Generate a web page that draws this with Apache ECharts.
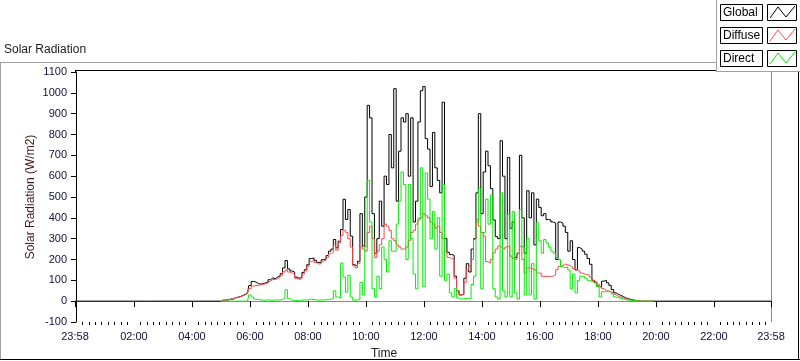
<!DOCTYPE html>
<html>
<head>
<meta charset="utf-8">
<script src="https://cdn.jsdelivr.net/npm/echarts@6/dist/echarts.min.js"></script>
<style>
  html, body { margin: 0; padding: 0; background: #fff; }
  #chart { width: 800px; height: 361px; }
</style>
</head>
<body>
<div id="chart"></div>
<script>
// minutes after midnight; axis runs 23:58 -> 23:58
const axisEnds = [-2, 1438];
const majorTicks = [-2, 120, 240, 360, 480, 600, 720, 840, 960, 1080, 1200, 1320, 1438];
// samples every 5 min from 05:00, one row per hour
const dayStart = 300;
const step = 5;
const nightGlobal = [[-2, 0], [1438, 0]];

const globalRad = [
    0, 5, 5, 6, 10, 10, 16, 19, 22, 27, 32, 40,
    75, 95, 92, 84, 82, 84, 88, 93, 103, 112, 108, 116,
    121, 132, 160, 195, 155, 145, 140, 115, 110, 115, 138, 151,
    175, 205, 207, 196, 186, 186, 199, 202, 219, 240, 250, 296,
    256, 288, 344, 489, 392, 440, 312, 175, 167, 191, 420, 264,
    500, 940, 880, 420, 230, 300, 480, 360, 600, 560, 800, 640,
    1020, 480, 720, 880, 860, 900, 600, 880, 380, 480, 860, 1010,
    1030, 780, 730, 550, 810, 640, 580, 520, 955, 300, 235, 224,
    220, 120, 50, 30, 32, 110, 180, 140, 250, 300, 520, 900,
    420, 620, 720, 650, 540, 390, 310, 300, 770, 600, 300, 690,
    350, 380, 210, 230, 700, 400, 230, 530, 400, 520, 270, 490,
    450, 410, 420, 392, 390, 380, 375, 200, 380, 375, 360, 330,
    240, 290, 200, 150, 257, 250, 240, 225, 205, 177, 100, 90,
    72, 66, 96, 100, 88, 76, 56, 40, 33, 28, 22, 16,
    12, 9, 6, 4, 2, 0, 0, 0, 0, 0, 0, 0
];

const diffuseRad = [
    0, 4, 5, 6, 9, 10, 15, 18, 21, 25, 30, 37,
    60, 72, 75, 76, 78, 80, 84, 88, 96, 104, 104, 108,
    114, 124, 140, 150, 140, 135, 130, 110, 104, 108, 130, 145,
    168, 190, 196, 186, 178, 180, 192, 196, 210, 228, 235, 270,
    245, 280, 315, 340, 330, 300, 260, 170, 160, 180, 260, 250,
    240, 330, 360, 300, 210, 240, 270, 300, 370, 360, 340, 300,
    290, 270, 260, 250, 250, 260, 290, 330, 340, 370, 390, 400,
    420, 410, 400, 380, 370, 350, 360, 330, 300, 240, 210, 205,
    200, 110, 50, 30, 32, 90, 150, 170, 200, 296, 392, 360,
    330, 312, 190, 183, 200, 232, 250, 264, 255, 248, 260, 264,
    216, 205, 200, 230, 264, 200, 135, 159, 160, 151, 150, 135,
    135, 119, 119, 118, 119, 120, 125, 151, 167, 170, 178, 175,
    170, 165, 155, 150, 145, 135, 130, 128, 125, 115, 100, 92,
    82, 70, 60, 52, 48, 45, 38, 30, 24, 20, 16, 12,
    10, 7, 5, 3, 2, 1, 0, 0, 0, 0, 0, 0
];

const directRad = [
    0, 0, 0, 0, 0, 0, 0, 0, 0, 0, 0, 0,
    30, 20, 10, 8, 6, 5, 5, 6, 5, 4, 6, 5,
    6, 8, 15, 55, 12, 5, 4, 3, 5, 4, 6, 5,
    8, 10, 8, 6, 5, 6, 5, 7, 8, 10, 12, 50,
    20, 15, 183, 116, 43, 124, 20, 5, 5, 10, 90, 30,
    260, 580, 380, 60, 20, 120, 60, 260, 200, 140, 290, 240,
    240, 370, 480, 620, 560, 200, 560, 300, 130, 60, 400, 640,
    70, 615, 490, 300, 430, 250, 400, 120, 560, 100, 130, 40,
    20, 60, 15, 10, 12, 12, 15, 12, 80, 120, 380, 540,
    60, 330, 490, 370, 510, 60, 20, 10, 520, 50, 20, 415,
    20, 430, 40, 10, 440, 260, 30, 300, 30, 180, 10, 376,
    290, 230, 296, 280, 260, 240, 230, 210, 200, 165, 160, 165,
    150, 60, 130, 40, 100, 120, 120, 110, 100, 95, 90, 85,
    70, 20, 45, 45, 48, 45, 35, 20, 16, 14, 10, 8,
    5, 4, 3, 2, 1, 0, 0, 0, 0, 0, 0, 0
];

const seriesNames = ['Global', 'Diffuse', 'Direct'];
const seriesColors = ['#000000', '#ff4a4a', '#00f000'];

function toPairs(arr) {
    return arr.map((v, i) => [dayStart + i * step, v]);
}

function fmtTime(v) {
    let m = Math.round(v);
    if (m < 0) m += 1440;
    const h = Math.floor(m / 60), mm = m % 60;
    return String(h).padStart(2, '0') + ':' + String(mm).padStart(2, '0');
}

// 8 minor ticks between each pair of 2h majors
const minorTicks = [];
for (let k = 0; k < 12; k++) {
    for (let j = 1; j <= 8; j++) minorTicks.push(120 * k + j * 120 / 9);
}

const FONT = 'Liberation Sans';
const TXT = '#10103a';

const globalData = [nightGlobal[0]].concat(toPairs(globalRad), [nightGlobal[1]]);

// legend drawn as boxed labels like the original panel
const legendGraphics = [];
seriesNames.forEach((name, i) => {
    const y = 4 + i * 23;
    legendGraphics.push(
        { type: 'rect', shape: { x: 720.5, y: y + 0.5, width: 42, height: 16 }, style: { fill: '#fff', stroke: '#000', lineWidth: 1 } },
        { type: 'text', x: 723, y: y + 9, style: { text: name, font: '12px ' + FONT, fill: '#000', verticalAlign: 'middle' } },
        { type: 'rect', shape: { x: 767.5, y: y + 0.5, width: 29, height: 16 }, style: { fill: '#fff', stroke: '#000', lineWidth: 1 } },
        { type: 'polyline', shape: { points: [[770, y + 14], [778, y + 3], [786, y + 13], [795, y + 2]] }, style: { stroke: seriesColors[i], lineWidth: 1, fill: null } }
    );
});

const chart = echarts.init(document.getElementById('chart'));
chart.setOption({
    animation: false,
    backgroundColor: '#fff',
    grid: { left: 75, right: 29, top: 72, bottom: 39 },
    xAxis: [{
        type: 'value', min: axisEnds[0], max: axisEnds[1],
        axisLine: { lineStyle: { color: '#8a8a8a' } },
        axisTick: { customValues: majorTicks, length: 6, lineStyle: { color: '#000' } },
        axisLabel: { customValues: majorTicks, formatter: fmtTime, margin: 9, color: TXT, fontFamily: FONT, fontSize: 11 },
        splitLine: { show: false }
    }, {
        type: 'value', min: axisEnds[0], max: axisEnds[1], position: 'bottom',
        axisLine: { show: false },
        axisTick: { customValues: minorTicks, length: 3, lineStyle: { color: '#000' } },
        axisLabel: { show: false },
        splitLine: { show: false }
    }],
    yAxis: {
        type: 'value', min: -100, max: 1100, interval: 100,
        name: 'Solar Radiation (W/m2)', nameLocation: 'middle', nameGap: 38, nameMoveOverlap: false,
        nameTextStyle: { color: '#4a1414', fontFamily: FONT, fontSize: 12 },
        axisLine: { show: true, lineStyle: { color: '#000' } },
        axisTick: { show: true, length: 5, lineStyle: { color: '#000' } },
        axisLabel: { margin: 8, color: TXT, fontFamily: FONT, fontSize: 11, formatter: v => String(v) },
        splitLine: { show: false }
    },
    series: [
        { name: 'Global', type: 'line', data: globalData, step: 'middle', showSymbol: false, lineStyle: { color: seriesColors[0], width: 1 }, z: 2 },
        { name: 'Diffuse', type: 'line', data: toPairs(diffuseRad), step: 'middle', showSymbol: false, lineStyle: { color: seriesColors[1], width: 1 }, z: 3 },
        { name: 'Direct', type: 'line', data: toPairs(directRad), step: 'middle', showSymbol: false, lineStyle: { color: seriesColors[2], width: 1 }, z: 4 }
    ],
    graphic: [
        { type: 'text', left: 4, top: 44, style: { text: 'Solar Radiation', font: '12px ' + FONT, fill: '#1a1a1a' } },
        { type: 'text', x: 384, y: 354, style: { text: 'Time', font: '12px ' + FONT, fill: '#1a1a1a', align: 'center', verticalAlign: 'middle' } },
        // outer panel
        { type: 'line', shape: { x1: 0, y1: 62.5, x2: 717, y2: 62.5 }, style: { stroke: '#a0a0a0' } },
        { type: 'line', shape: { x1: 0.5, y1: 62, x2: 0.5, y2: 360 }, style: { stroke: '#a0a0a0' } },
        { type: 'line', shape: { x1: 0, y1: 359.5, x2: 800, y2: 359.5 }, style: { stroke: '#000' } },
        { type: 'line', shape: { x1: 798.5, y1: 72, x2: 798.5, y2: 360 }, style: { stroke: '#000' } },
        // plot frame top/right
        { type: 'line', shape: { x1: 75, y1: 70.5, x2: 717, y2: 70.5 }, style: { stroke: '#000' } },
        { type: 'line', shape: { x1: 75.5, y1: 70, x2: 75.5, y2: 73 }, style: { stroke: '#000' } },
        { type: 'line', shape: { x1: 771.5, y1: 72, x2: 771.5, y2: 322 }, style: { stroke: '#8a8a8a' } },
        // legend panel
        { type: 'rect', shape: { x: 717, y: 0, width: 83, height: 71.5 }, style: { fill: '#fff' } },
        { type: 'line', shape: { x1: 716.5, y1: 0, x2: 716.5, y2: 72 }, style: { stroke: '#a0a0a0' } },
        { type: 'line', shape: { x1: 716.5, y1: 71.5, x2: 800, y2: 71.5 }, style: { stroke: '#a0a0a0' } }
    ].concat(legendGraphics)
});
</script>
</body>
</html>
